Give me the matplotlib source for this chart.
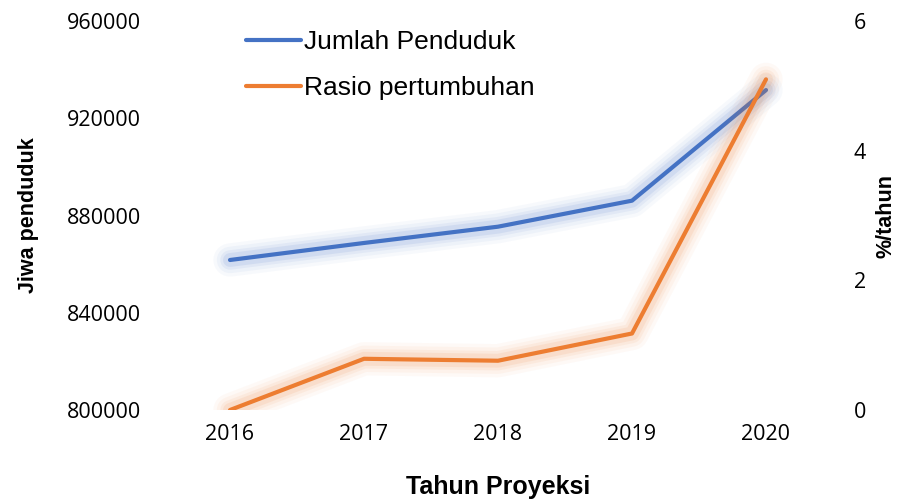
import matplotlib
matplotlib.use("Agg")
import matplotlib.pyplot as plt
from matplotlib.lines import Line2D
from matplotlib import font_manager

years = [2016, 2017, 2018, 2019, 2020]
penduduk = [861700, 868700, 875400, 886100, 931600]
rasio = [0.0, 0.79, 0.76, 1.18, 5.10]
left_ticks = [800000, 840000, 880000, 920000, 960000]
right_ticks = [0, 2, 4, 6]

names = {f.name for f in font_manager.fontManager.ttflist}
narrow = 'Liberation Sans Narrow' if 'Liberation Sans Narrow' in names else 'Liberation Sans'
tickfont = ['Open Sans', 'DejaVu Sans']

blue = '#4472C4'
orange = '#ED7D31'

fig = plt.figure(figsize=(8.99, 5.04), dpi=100)
ax = fig.add_axes([163/899, 1-410/504, (833-163)/899, (410-21)/504])
ax2 = ax.twinx()

def glow(a, x, y, c):
    for w, al in [(24, 0.04), (19, 0.05), (14, 0.07), (10, 0.10)]:
        a.plot(x, y, color=c, lw=w, alpha=al, solid_capstyle='round', solid_joinstyle='round')
    a.plot(x, y, color=c, lw=3, solid_capstyle='round', solid_joinstyle='round')

glow(ax, years, penduduk, blue)
glow(ax2, years, rasio, orange)

ax.set_xlim(2015.5, 2020.5)
ax.set_ylim(800000, 960000)
ax2.set_ylim(0, 6)
ax.set_yticks(left_ticks)
ax.set_yticklabels([str(v) for v in left_ticks], family=tickfont, fontsize=15.5)
ax2.set_yticks(right_ticks)
ax2.set_yticklabels([str(v) for v in right_ticks], family=tickfont, fontsize=15.5)
ax.set_xticks(years)
ax.set_xticklabels([str(v) for v in years], family=tickfont, fontsize=15.5)
for a in (ax, ax2):
    for s in a.spines.values():
        s.set_visible(False)
    a.tick_params(length=0)
ax.tick_params(axis='y', pad=16)
ax2.tick_params(axis='y', pad=15)
ax.tick_params(axis='x', pad=10)

ax.set_xlabel('Tahun Proyeksi', family=narrow, fontsize=18, fontweight='bold', labelpad=22)
ax.set_ylabel('Jiwa penduduk', family=narrow, fontsize=15.5, fontweight='bold', labelpad=20)
ax2.set_ylabel('%/tahun', family=narrow, fontsize=15.5, fontweight='bold', labelpad=7)

handles = [Line2D([], [], color=blue, lw=3, solid_capstyle='round'),
           Line2D([], [], color=orange, lw=3, solid_capstyle='round')]
leg = ax2.legend(handles, ['Jumlah Penduduk', 'Rasio pertumbuhan'],
                 loc='upper left', bbox_to_anchor=(222/899, 1-6/504),
                 bbox_transform=fig.transFigure, frameon=False,
                 prop={'family': narrow, 'size': 19},
                 handlelength=2.1, handletextpad=0.1, labelspacing=0.85)

fig.savefig('out.png', dpi=100)
